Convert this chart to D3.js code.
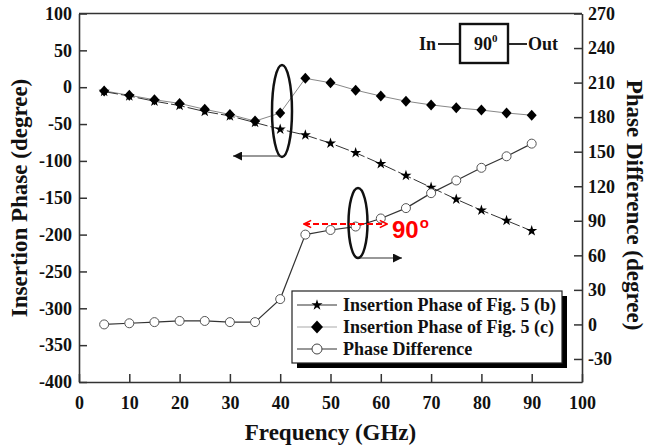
<!DOCTYPE html>
<html><head><meta charset="utf-8">
<script src="https://cdn.jsdelivr.net/npm/d3@7"></script>
<style>
body{margin:0;background:#fff;}
svg{display:block;}
text{font-family:"Liberation Serif","Times New Roman",serif;font-weight:bold;fill:#111;}
</style></head>
<body>
<script>
const freq = [5,10,15,20,25,30,35,40,45,50,55,60,65,70,75,80,85,90];
const phaseFig5b = [-6,-12,-19,-25,-33,-39,-48,-57,-65,-76,-89,-104,-120,-136,-152,-167,-181,-195];
const phaseFig5c = [-5,-11,-17,-22,-30,-37,-46,-35,12,6,-4,-12,-19,-24,-28,-31,-35,-38];
const phaseDiff = [0,1,2,3,3,2,2,22,78,82,85,92,101,114,125,136,146,157];
const xTicks = [0,10,20,30,40,50,60,70,80,90,100];
const leftTicks = [100,50,0,-50,-100,-150,-200,-250,-300,-350,-400];
const rightTicks = [270,240,210,180,150,120,90,60,30,0,-30];
const legendLabels = ["Insertion Phase of Fig. 5 (b)","Insertion Phase of Fig. 5 (c)","Phase Difference"];

const W=647,H=445;
const L=79,R=582,T=13.5,B=382;
const svg=d3.select("body").append("svg").attr("width",W).attr("height",H);
const x=d3.scaleLinear().domain([0,100]).range([L,R]);
const yL=d3.scaleLinear().domain([-400,100]).range([B,T]);
const yR=d3.scaleLinear().domain([-50,270]).range([B,T]);
const fmt=d=>String(d);

const defs=svg.append("defs");
defs.append("marker").attr("id","ah").attr("viewBox","0 0 10 10").attr("refX",10).attr("refY",5)
 .attr("markerWidth",11).attr("markerHeight",9).attr("markerUnits","userSpaceOnUse").attr("orient","auto")
 .append("path").attr("d","M0,0 L10,5 L0,10 Z").attr("fill","#111");
defs.append("marker").attr("id","rh").attr("viewBox","0 0 10 10").attr("refX",9).attr("refY",5)
 .attr("markerWidth",9).attr("markerHeight",11).attr("markerUnits","userSpaceOnUse").attr("orient","auto-start-reverse")
 .append("path").attr("d","M1,1 L9,5 L1,9").attr("fill","none").attr("stroke","#f00").attr("stroke-width",1.8);

// axes
const fs=18;
const ax=svg.append("g").attr("transform",`translate(0,${B})`).call(d3.axisBottom(x).tickValues(xTicks).tickFormat(fmt).tickSize(-8).tickPadding(14).tickSizeOuter(0));
const ay=svg.append("g").attr("transform",`translate(${L},0)`).call(d3.axisLeft(yL).tickValues(leftTicks).tickFormat(fmt).tickSize(-8).tickPadding(7).tickSizeOuter(0));
const ar=svg.append("g").attr("transform",`translate(${R},0)`).call(d3.axisRight(yR).tickValues(rightTicks).tickFormat(fmt).tickSize(-8).tickPadding(6).tickSizeOuter(0));
[ax,ay,ar].forEach(g=>{
  g.selectAll("text").style("font-family",'"Liberation Serif",serif').style("font-weight","bold").style("font-size",fs+"px").attr("fill","#111");
  g.selectAll("line").attr("stroke","#333").attr("stroke-width",1.5);
  g.select(".domain").attr("stroke","#333").attr("stroke-width",1.6);
});
svg.append("line").attr("x1",L).attr("x2",R).attr("y1",T).attr("y2",T).attr("stroke","#333").attr("stroke-width",1.6);

// axis titles
svg.append("text").attr("x",(L+R)/2).attr("y",440).attr("text-anchor","middle").style("font-size","23px").text("Frequency (GHz)");
svg.append("text").attr("transform",`translate(27,198) rotate(-90)`).attr("text-anchor","middle").style("font-size","23px").text("Insertion Phase (degree)");
svg.append("text").attr("transform",`translate(627,205) rotate(90)`).attr("text-anchor","middle").style("font-size","23px").text("Phase Difference (degree)");

// series
const starPath=d3.symbol().type(d3.symbolStar).size(38)();
const diamondPath="M0,-5.5L5,0L0,5.5L-5,0Z";
const ptsC=freq.map((f,i)=>[x(f),yL(phaseFig5c[i])]);
const ptsB=freq.map((f,i)=>[x(f),yL(phaseFig5b[i])]);
const ptsD=freq.map((f,i)=>[x(f),yR(phaseDiff[i])]);
const line=d3.line();
svg.append("path").attr("d",line(ptsC)).attr("fill","none").attr("stroke","#888").attr("stroke-width",1);
svg.append("path").attr("d",line(ptsB)).attr("fill","none").attr("stroke","#333").attr("stroke-width",1).attr("stroke-dasharray","14,3");
svg.append("path").attr("d",line(ptsD)).attr("fill","none").attr("stroke","#333").attr("stroke-width",1.2);
svg.append("g").selectAll("path").data(ptsC).join("path").attr("d",diamondPath).attr("transform",d=>`translate(${d[0]},${d[1]})`).attr("fill","#000");
svg.append("g").selectAll("path").data(ptsB).join("path").attr("d",starPath).attr("transform",d=>`translate(${d[0]},${d[1]})`).attr("fill","#000");
svg.append("g").selectAll("circle").data(ptsD).join("circle").attr("cx",d=>d[0]).attr("cy",d=>d[1]).attr("r",4.5).attr("fill","#fff").attr("stroke","#555").attr("stroke-width",1);

// annotations
svg.append("ellipse").attr("cx",282).attr("cy",111).attr("rx",10).attr("ry",46).attr("fill","none").attr("stroke","#111").attr("stroke-width",2.5);
svg.append("line").attr("x1",281).attr("y1",156).attr("x2",233).attr("y2",156).attr("stroke","#333").attr("stroke-width",1.2).attr("marker-end","url(#ah)");
svg.append("ellipse").attr("cx",358).attr("cy",223).attr("rx",9.5).attr("ry",35).attr("fill","none").attr("stroke","#111").attr("stroke-width",2.5);
svg.append("line").attr("x1",360).attr("y1",258).attr("x2",402).attr("y2",258).attr("stroke","#333").attr("stroke-width",1.2).attr("marker-end","url(#ah)");
svg.append("line").attr("x1",304).attr("y1",224).attr("x2",387).attr("y2",224).attr("stroke","#f00").attr("stroke-width",1.8).attr("stroke-dasharray","6,3")
  .attr("marker-start","url(#rh)").attr("marker-end","url(#rh)");
const t90=svg.append("text").attr("x",392).attr("y",238).style("font-family",'"Liberation Sans",Arial,sans-serif').style("font-size","24px").style("fill","#f00");
t90.append("tspan").text("90");
t90.append("tspan").attr("dy",-10).attr("dx",1).style("font-size","15px").text("o");

// inset
svg.append("text").attr("x",419).attr("y",50).style("font-size","18px").text("In");
svg.append("line").attr("x1",438).attr("x2",460).attr("y1",44).attr("y2",44).attr("stroke","#111").attr("stroke-width",1.8);
svg.append("rect").attr("x",460).attr("y",24).attr("width",48).attr("height",39).attr("fill","none").attr("stroke","#111").attr("stroke-width",2.4);
const t0=svg.append("text").attr("x",474).attr("y",50).style("font-size","18px");
t0.append("tspan").text("90");
t0.append("tspan").attr("dy",-8).style("font-size","11px").text("0");
svg.append("line").attr("x1",508).attr("x2",527).attr("y1",44).attr("y2",44).attr("stroke","#111").attr("stroke-width",1.8);
svg.append("text").attr("x",528).attr("y",50).style("font-size","18px").text("Out");

// legend
const lg=svg.append("g");
lg.append("rect").attr("x",297).attr("y",296).attr("width",270).attr("height",72).attr("fill","#000");
lg.append("rect").attr("x",292).attr("y",291).attr("width",270).attr("height",72).attr("fill","#fff").attr("stroke","#222").attr("stroke-width",1.2);
const rowY=[305,327,349];
const lineCols=["#333","#aaa","#333"];
legendLabels.forEach((lab,i)=>{
  lg.append("line").attr("x1",297).attr("x2",337).attr("y1",rowY[i]).attr("y2",rowY[i]).attr("stroke",lineCols[i]).attr("stroke-width",1.2);
  if(i===0) lg.append("path").attr("d",starPath).attr("transform",`translate(317,${rowY[i]})`).attr("fill","#000");
  if(i===1) lg.append("path").attr("d",diamondPath).attr("transform",`translate(317,${rowY[i]}) scale(1.2)`).attr("fill","#000");
  if(i===2) lg.append("circle").attr("cx",317).attr("cy",rowY[i]).attr("r",5).attr("fill","#fff").attr("stroke","#444");
  lg.append("text").attr("x",343).attr("y",rowY[i]).attr("dy","0.33em").style("font-size","18px").text(lab);
});
</script>
</body></html>
